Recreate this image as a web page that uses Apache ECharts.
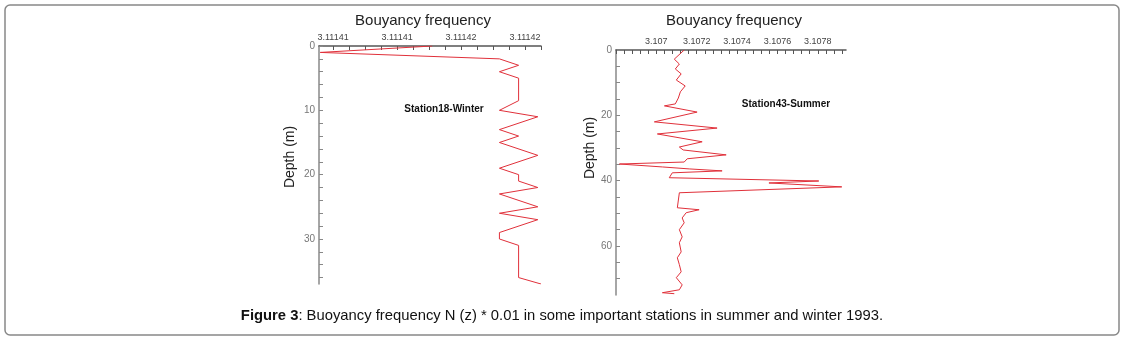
<!DOCTYPE html>
<html lang="en">

<head>
    <meta charset="UTF-8">
    <title>Buoyancy frequency</title>
    <script type="text/javascript" src="https://cdn.jsdelivr.net/npm/echarts@6/dist/echarts.min.js"></script>
    <style>
        html, body { margin: 0; padding: 0; background: #fff; }
    </style>
</head>

<body>
    <div id="main" style="width: 1124px; height: 340px;"></div>

    <script type="text/javascript">
        // station 18 - winter
        var winterN = [3.1114151, 3.1114116, 3.1114172, 3.1114178, 3.1114172, 3.1114178, 3.1114178,
            3.1114172, 3.1114184, 3.1114172, 3.1114178, 3.1114172, 3.1114184, 3.1114172, 3.1114178,
            3.1114178, 3.1114184, 3.1114172, 3.1114184, 3.1114172, 3.1114184, 3.1114172, 3.1114172,
            3.1114178, 3.1114178, 3.1114185];
        var winterDepth = [0, 1, 2, 3, 4, 5, 8.5, 10, 11, 13, 14, 15, 17, 19, 20, 21, 22, 23, 25, 26,
            27, 29, 30, 31, 36, 37];

        // station 43 - summer
        var summerN = [3.107138, 3.107089, 3.107114, 3.107094, 3.107123, 3.107099, 3.107143, 3.107119,
            3.107109, 3.107094, 3.10704, 3.107202, 3.10699, 3.107301, 3.107005, 3.107227, 3.107114,
            3.107133, 3.107346, 3.107153, 3.107138, 3.106817, 3.10703, 3.107163, 3.107326, 3.107079,
            3.107064, 3.107805, 3.107558, 3.107919, 3.107114, 3.107104, 3.107212, 3.107148, 3.107128,
            3.107138, 3.107114, 3.107128, 3.107114, 3.107123, 3.107104, 3.107114, 3.107123, 3.107099,
            3.107128, 3.107114, 3.10703, 3.107089];
        var summerDepth = [0, 2.8, 4.3, 5.8, 7.3, 9.2, 11.0, 12.8, 14.7, 16.5, 17.1, 19.0, 22.0, 23.9,
            25.7, 28.1, 29.7, 30.6, 32.1, 33.3, 34.3, 34.9, 35.8, 36.4, 37.0, 37.6, 39.1, 40.1, 40.7,
            41.9, 43.7, 48.3, 48.9, 49.8, 51.4, 52.9, 55.0, 57.2, 59.0, 61.8, 63.6, 65.7, 67.9, 69.7,
            71.9, 73.4, 74.3, 74.6];

        // tick labels
        var winterNLabels = [3.111412, 3.111414, 3.111416, 3.111418];
        var winterDepthLabels = [0, 10, 20, 30];
        var summerNLabels = [3.107, 3.1072, 3.1074, 3.1076, 3.1078];
        var summerDepthLabels = [0, 20, 40, 60];

        function steps(from, to, step) {
            var out = [];
            for (var i = 0; from + i * step <= to + step * 1e-6; i++) {
                out.push(+(from + i * step).toFixed(9));
            }
            return out;
        }

        function pairs(xs, ys) {
            return xs.map(function (v, i) { return [v, ys[i]]; });
        }

        var RED = '#e0303a';
        var FONT = 'Liberation Sans, Arial, sans-serif';

        function xAxisCfg(gridIndex, min, max, labels, ticks, digits) {
            return {
                type: 'value', gridIndex: gridIndex, position: 'top',
                min: min, max: max,
                axisLine: { show: true, onZero: false, lineStyle: { color: '#555', width: 1.5 } },
                axisTick: { show: true, inside: true, length: 4, customValues: ticks, lineStyle: { color: '#555' } },
                axisLabel: {
                    customValues: labels, color: '#444', fontSize: 9, fontFamily: FONT, margin: 4,
                    formatter: function (v) { return String(+v.toFixed(digits)); }
                },
                splitLine: { show: false }
            };
        }

        function yAxisCfg(gridIndex, max, labels, ticks) {
            return {
                type: 'value', gridIndex: gridIndex, inverse: true,
                min: 0, max: max,
                axisLine: { show: true, onZero: false, lineStyle: { color: '#888', width: 1.5 } },
                axisTick: { show: true, inside: true, length: 4, customValues: ticks, lineStyle: { color: '#888' } },
                axisLabel: { customValues: labels, color: '#777', fontSize: 10, fontFamily: FONT, margin: 4 },
                splitLine: { show: false }
            };
        }

        var myChart = echarts.init(document.getElementById('main'));

        myChart.setOption({
            backgroundColor: '#fff',
            animation: false,
            grid: [
                { left: 319, top: 46, width: 222, height: 238 },
                { left: 616, top: 50, width: 230, height: 245 }
            ],
            xAxis: [
                xAxisCfg(0, 3.11141156, 3.1114185, winterNLabels, steps(3.111412, 3.1114185, 0.0000005), 5),
                xAxisCfg(1, 3.1068, 3.10794, summerNLabels, steps(3.1068, 3.10794, 0.00004), 4)
            ],
            yAxis: [
                yAxisCfg(0, 37, winterDepthLabels, steps(0, 36, 2)),
                yAxisCfg(1, 75, summerDepthLabels, steps(0, 70, 5))
            ],
            series: [{
                name: 'Station18-Winter', type: 'line', xAxisIndex: 0, yAxisIndex: 0,
                showSymbol: false, lineStyle: { color: RED, width: 1 },
                data: pairs(winterN, winterDepth)
            }, {
                name: 'Station43-Summer', type: 'line', xAxisIndex: 1, yAxisIndex: 1,
                showSymbol: false, lineStyle: { color: RED, width: 1 },
                data: pairs(summerN, summerDepth)
            }],
            graphic: [
                // frame
                { type: 'rect', shape: { x: 5, y: 5, width: 1114, height: 330, r: 5 },
                  style: { fill: 'none', stroke: '#888', lineWidth: 1.5 } },
                // titles
                { type: 'text', x: 423, y: 21, style: { text: 'Bouyancy frequency', font: '15px ' + FONT,
                  fill: '#222', align: 'center', verticalAlign: 'middle' } },
                { type: 'text', x: 734, y: 21, style: { text: 'Bouyancy frequency', font: '15px ' + FONT,
                  fill: '#222', align: 'center', verticalAlign: 'middle' } },
                // axis names
                { type: 'text', x: 290, y: 157, rotation: Math.PI / 2, style: { text: 'Depth (m)',
                  font: '14px ' + FONT, fill: '#222', align: 'center', verticalAlign: 'middle' } },
                { type: 'text', x: 590, y: 148, rotation: Math.PI / 2, style: { text: 'Depth (m)',
                  font: '14px ' + FONT, fill: '#222', align: 'center', verticalAlign: 'middle' } },
                // station labels
                { type: 'text', x: 444, y: 109, style: { text: 'Station18-Winter', font: 'bold 10px ' + FONT,
                  fill: '#111', align: 'center', verticalAlign: 'middle' } },
                { type: 'text', x: 786, y: 104, style: { text: 'Station43-Summer', font: 'bold 10px ' + FONT,
                  fill: '#111', align: 'center', verticalAlign: 'middle' } },
                // caption
                { type: 'text', x: 562, y: 316, style: {
                  text: '{b|Figure 3}: Buoyancy frequency N (z) * 0.01 in some important stations in summer and winter 1993.',
                  font: '14.8px ' + FONT, fill: '#111', align: 'center', verticalAlign: 'middle',
                  rich: { b: { fontWeight: 'bold', fontSize: 14.8, fontFamily: FONT, fill: '#111' } } } }
            ]
        });
    </script>

</body>

</html>
